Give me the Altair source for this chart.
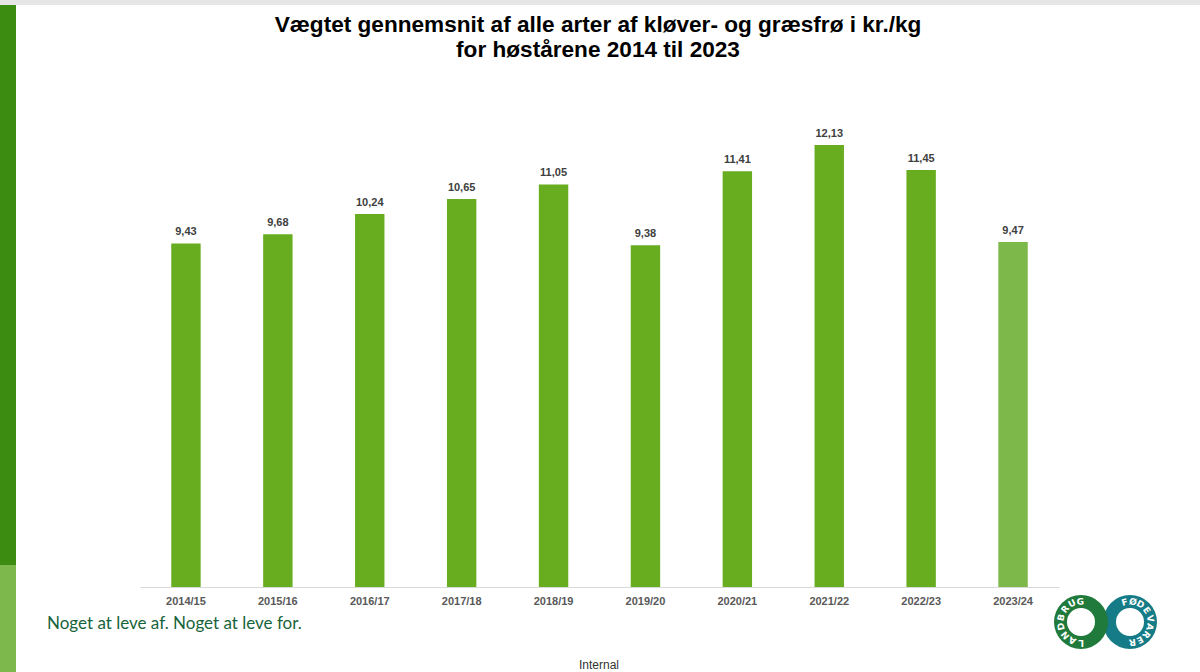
import altair as alt
import pandas as pd

# ---- data ----
seasons = ["2014/15", "2015/16", "2016/17", "2017/18", "2018/19",
           "2019/20", "2020/21", "2021/22", "2022/23", "2023/24"]
prices = [9.43, 9.68, 10.24, 10.65, 11.05, 9.38, 11.41, 12.13, 11.45, 9.47]

title_lines = ["Vægtet gennemsnit af alle arter af kløver- og græsfrø i kr./kg",
               "for høstårene 2014 til 2023"]
slogan = "Noget at leve af. Noget at leve for."
footer = "Internal"

logo_left_letters = list("LANDBRUG")
logo_left_angles = [180, 205, 230, 257, 283, 309, 334, 358]
logo_right_letters = list("FØDEVARER")
logo_right_angles = [345, 8, 31, 55, 80, 104, 128, 151, 173]

df = pd.DataFrame({"season": seasons, "value": prices})
one = pd.DataFrame({"k": [0]})

# plot-area origin inside the 1200x672 canvas
OX, OY = 140, 77
W, H = 919, 510

base = alt.Chart(df)

x_enc = alt.X("season:N", sort=seasons,
              scale=alt.Scale(paddingInner=0.68, paddingOuter=0.34),
              axis=alt.Axis(title=None, labelAngle=0, ticks=False,
                            domainColor="#d9d9d9", domainWidth=1,
                            labelFont="Liberation Sans", labelFontWeight="bold",
                            labelFontSize=11, labelColor="#595959",
                            labelPadding=8, grid=False))
y_enc = alt.Y("value:Q", scale=alt.Scale(domain=[0, 14], nice=False), axis=None)

bars = base.mark_bar().encode(
    x=x_enc, y=y_enc,
    color=alt.condition(alt.datum.season == "2023/24",
                        alt.value("#7db84a"), alt.value("#67ad1f")),
)

labels = base.transform_calculate(
    label="replace(format(datum.value, '.2f'), '.', ',')"
).mark_text(baseline="bottom", dy=-6, font="Liberation Sans",
            fontWeight="bold", fontSize=11, color="#404040").encode(
    x=x_enc, y=y_enc, text="label:N")

# ---- slide decoration ----
deco = alt.Chart(one)
top_strip = deco.mark_rect(color="#e6e6e6").encode(
    x=alt.value(-OX), x2=alt.value(1200 - OX),
    y=alt.value(-OY), y2=alt.value(5 - OY))
left_dark = deco.mark_rect(color="#3b8c10").encode(
    x=alt.value(-OX), x2=alt.value(16 - OX),
    y=alt.value(5 - OY), y2=alt.value(565 - OY))
left_light = deco.mark_rect(color="#7db84c").encode(
    x=alt.value(-OX), x2=alt.value(16 - OX),
    y=alt.value(565 - OY), y2=alt.value(672 - OY))

title_t = deco.mark_text(text=title_lines, font="Liberation Sans", fontSize=22.6,
                         fontWeight="bold", color="#000000", align="center",
                         baseline="alphabetic", lineHeight=25).encode(
    x=alt.value(598 - OX), y=alt.value(32 - OY))

slogan_t = deco.mark_text(text=slogan, font="Lato", fontSize=17,
                          color="#17633a", align="left",
                          baseline="alphabetic").encode(
    x=alt.value(47 - OX), y=alt.value(629 - OY))
footer_t = deco.mark_text(text=footer, font="Liberation Sans", fontSize=12,
                          color="#333333", align="center",
                          baseline="alphabetic").encode(
    x=alt.value(599 - OX), y=alt.value(669 - OY))

LCX, RCX, CY = 1081, 1130, 622
ring_r = deco.mark_arc(theta=0, theta2=6.2832, radius=27, radius2=14,
                       color="#157b86").encode(
    x=alt.value(RCX - OX), y=alt.value(CY - OY))
ring_l = deco.mark_arc(theta=0, theta2=6.2832, radius=27, radius2=14,
                       color="#1f7a3b").encode(
    x=alt.value(LCX - OX), y=alt.value(CY - OY))

ldf = pd.DataFrame({"ch": logo_left_letters, "deg": logo_left_angles})
rdf = pd.DataFrame({"ch": logo_right_letters, "deg": logo_right_angles})
ldf["rad"] = ldf["deg"] * 3.14159265 / 180
rdf["rad"] = rdf["deg"] * 3.14159265 / 180

letters_l = alt.Chart(ldf).mark_text(radius=20.5, font="DejaVu Sans",
                                     fontSize=9, fontWeight="bold",
                                     color="white", baseline="middle").encode(
    x=alt.value(LCX - OX), y=alt.value(CY - OY),
    theta=alt.Theta("rad:Q", scale=None),
    angle=alt.Angle("deg:Q", scale=None), text="ch:N")
letters_r = alt.Chart(rdf).mark_text(radius=20.5, font="DejaVu Sans",
                                     fontSize=9, fontWeight="bold",
                                     color="white", baseline="middle").encode(
    x=alt.value(RCX - OX), y=alt.value(CY - OY),
    theta=alt.Theta("rad:Q", scale=None),
    angle=alt.Angle("deg:Q", scale=None), text="ch:N")

chart = alt.layer(
    top_strip, left_dark, left_light, title_t,
    bars, labels,
    slogan_t, footer_t, ring_r, ring_l, letters_l, letters_r,
).properties(
    width=W, height=H,
    padding={"left": OX, "top": OY, "right": 1200 - OX - W, "bottom": 672 - OY - H},
    autosize=alt.AutoSizeParams(type="none"),
    background="white",
).configure_view(stroke=None)

chart.save("out.html", embed_options={"renderer": "svg", "actions": False})
